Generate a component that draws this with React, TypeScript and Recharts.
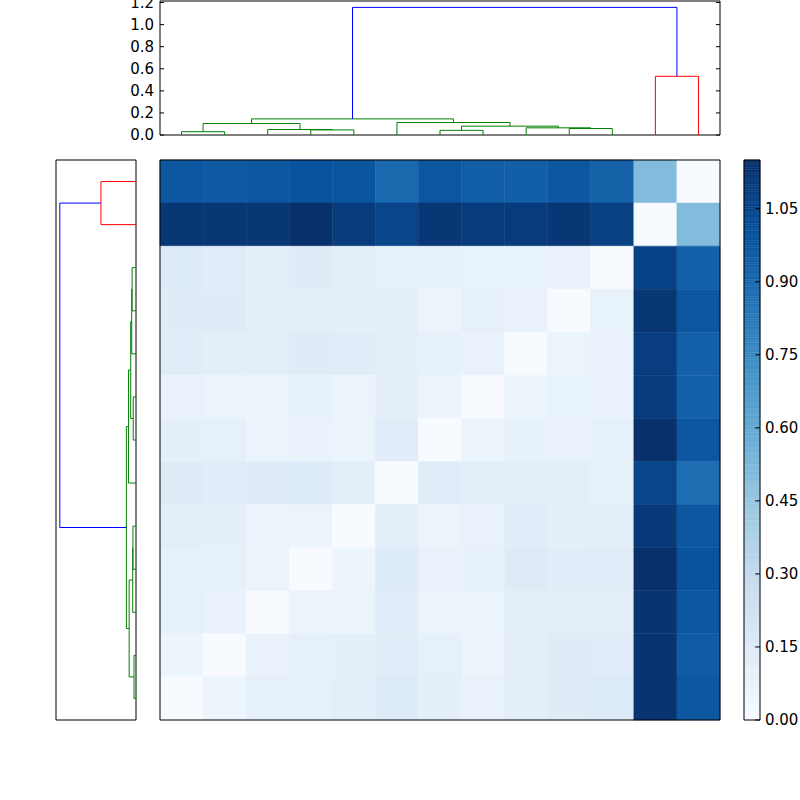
import React from 'react'
import { ReferenceArea, ReferenceLine, Scatter, ScatterChart, XAxis, YAxis } from 'recharts'

// linkage, leaves numbered 0..12 in dendrogram order, merge k makes node 13 + k
const mergeLeft = [0, 3, 2, 13, 6, 9, 8, 17, 5, 16, 11, 22]
const mergeRight = [1, 4, 14, 15, 7, 10, 18, 19, 20, 21, 12, 23]
const mergeHeight = [0.03, 0.046, 0.05, 0.104, 0.042, 0.059, 0.065, 0.08, 0.113, 0.146, 0.532, 1.156]
const mergeColor = ['g', 'g', 'g', 'g', 'g', 'g', 'g', 'g', 'g', 'g', 'r', 'b']

const dendroTicks = [0, 0.2, 0.4, 0.6, 0.8, 1.0, 1.2]
const colorbarTicks = [0, 0.15, 0.3, 0.45, 0.6, 0.75, 0.9, 1.05]

// heatmap rows, top to bottom
const row00 = [0.98, 0.97, 0.985, 1.0, 0.99, 0.9, 0.985, 0.95, 0.945, 0.98, 0.93, 0.51, 0.0]
const row01 = [1.12, 1.12, 1.12, 1.15, 1.1, 1.06, 1.12, 1.1, 1.1, 1.12, 1.08, 0.0, 0.51]
const row02 = [0.15, 0.13, 0.11, 0.14, 0.11, 0.09, 0.09, 0.085, 0.085, 0.08, 0.0, 1.07, 0.94]
const row03 = [0.14, 0.14, 0.12, 0.12, 0.11, 0.12, 0.07, 0.095, 0.08, 0.0, 0.085, 1.12, 0.985]
const row04 = [0.13, 0.12, 0.12, 0.14, 0.13, 0.11, 0.09, 0.08, 0.0, 0.07, 0.08, 1.09, 0.94]
const row05 = [0.08, 0.07, 0.07, 0.09, 0.065, 0.11, 0.055, 0.0, 0.065, 0.085, 0.08, 1.1, 0.94]
const row06 = [0.11, 0.095, 0.065, 0.075, 0.065, 0.13, 0.0, 0.065, 0.09, 0.08, 0.095, 1.15, 0.985]
const row07 = [0.145, 0.135, 0.14, 0.15, 0.12, 0.0, 0.13, 0.12, 0.12, 0.12, 0.1, 1.06, 0.88]
const row08 = [0.12, 0.11, 0.07, 0.07, 0.0, 0.12, 0.07, 0.08, 0.13, 0.11, 0.11, 1.11, 0.98]
const row09 = [0.095, 0.1, 0.07, 0.0, 0.055, 0.15, 0.08, 0.09, 0.145, 0.13, 0.135, 1.15, 1.0]
const row10 = [0.1, 0.08, 0.0, 0.07, 0.07, 0.135, 0.065, 0.065, 0.12, 0.12, 0.12, 1.13, 0.985]
const row11 = [0.055, 0.0, 0.08, 0.095, 0.11, 0.135, 0.1, 0.065, 0.11, 0.14, 0.135, 1.13, 0.96]
const row12 = [0.0, 0.055, 0.095, 0.095, 0.12, 0.15, 0.11, 0.08, 0.12, 0.14, 0.15, 1.13, 0.98]
const heatRows = [row00, row01, row02, row03, row04, row05, row06, row07, row08, row09, row10, row11, row12]

const VMAX = 1.15
const DMAX = 1.214
const LEAVES = 13
const FONT = { fill: '#000', fontSize: 15, fontFamily: 'DejaVu Sans' }
const LINK_COLORS: Record<string, string> = { g: '#008000', r: '#ff0000', b: '#0000ff' }

const BLUES = [
  [247, 251, 255], [222, 235, 247], [198, 219, 239], [158, 202, 225], [107, 174, 214],
  [66, 146, 198], [33, 113, 181], [8, 81, 156], [8, 48, 107]
]

const blues = (v: number) => {
  const t = Math.max(0, Math.min(1, v / VMAX)) * 8
  const i = Math.min(7, Math.floor(t))
  const f = t - i
  const c = BLUES[i].map((a, k) => Math.round(a + (BLUES[i + 1][k] - a) * f))
  return `rgb(${c[0]},${c[1]},${c[2]})`
}

type Seg = { color: string; a: [number, number]; b: [number, number] }

// each link is a U: left leg, crossbar, right leg; coords are [leafPos, height]
const buildSegments = () => {
  const pos: number[] = []
  const hgt: number[] = []
  for (let i = 0; i < LEAVES; i++) {
    pos[i] = 5 + 10 * i
    hgt[i] = 0
  }
  const segs: Seg[] = []
  mergeLeft.forEach((l, k) => {
    const r = mergeRight[k]
    const h = mergeHeight[k]
    const color = LINK_COLORS[mergeColor[k]]
    pos[LEAVES + k] = (pos[l] + pos[r]) / 2
    hgt[LEAVES + k] = h
    segs.push({ color, a: [pos[l], hgt[l]], b: [pos[l], h] })
    segs.push({ color, a: [pos[l], h], b: [pos[r], h] })
    segs.push({ color, a: [pos[r], h], b: [pos[r], hgt[r]] })
  })
  return segs
}

const segments = buildSegments()
const leafPoints = Array.from({ length: LEAVES }, (_, i) => ({ x: 5 + 10 * i, y: 0 }))
const noDot = () => <g />

const TopDendrogram = () => (
  <ScatterChart width={611} height={150} margin={{ top: 1, right: 1, bottom: 15, left: 0 }}>
    <XAxis type="number" dataKey="x" domain={[0, 130]} hide />
    <YAxis
      type="number"
      dataKey="y"
      domain={[0, DMAX]}
      ticks={dendroTicks}
      interval={0}
      width={50}
      axisLine={false}
      tickLine={false}
      tickSize={0}
      tickMargin={6}
      tick={FONT}
      tickFormatter={(v: number) => v.toFixed(1)}
    />
    <Scatter data={leafPoints} shape={noDot} isAnimationActive={false} />
    {dendroTicks.map((t) => (
      <ReferenceLine key={`l${t}`} segment={[{ x: 0, y: t }, { x: 0.95, y: t }]} stroke="#000" />
    ))}
    {dendroTicks.map((t) => (
      <ReferenceLine key={`r${t}`} segment={[{ x: 129.05, y: t }, { x: 130, y: t }]} stroke="#000" />
    ))}
    {segments.map((s, i) => (
      <ReferenceLine
        key={i}
        segment={[{ x: s.a[0], y: s.a[1] }, { x: s.b[0], y: s.b[1] }]}
        stroke={s.color}
        strokeWidth={1}
      />
    ))}
    <ReferenceArea x1={0} x2={130} y1={0} y2={DMAX} fill="none" stroke="#000" fillOpacity={0} />
  </ScatterChart>
)

const LeftDendrogram = () => (
  <ScatterChart width={82} height={562} margin={{ top: 1, right: 1, bottom: 1, left: 1 }}>
    <XAxis type="number" dataKey="x" domain={[0, DMAX]} reversed hide />
    <YAxis type="number" dataKey="y" domain={[0, 130]} hide />
    <Scatter data={leafPoints.map((p) => ({ x: 0, y: p.x }))} shape={noDot} isAnimationActive={false} />
    {segments.map((s, i) => (
      <ReferenceLine
        key={i}
        segment={[{ x: s.a[1], y: s.a[0] }, { x: s.b[1], y: s.b[0] }]}
        stroke={s.color}
        strokeWidth={1}
      />
    ))}
    <ReferenceArea x1={0} x2={DMAX} y1={0} y2={130} fill="none" stroke="#000" fillOpacity={0} />
  </ScatterChart>
)

const cellCenters = heatRows.flatMap((row, r) => row.map((v, c) => ({ x: c + 0.5, y: r + 0.5, v })))

const Heatmap = () => (
  <ScatterChart width={562} height={562} margin={{ top: 1, right: 1, bottom: 1, left: 1 }}>
    <XAxis type="number" dataKey="x" domain={[0, LEAVES]} hide />
    <YAxis type="number" dataKey="y" domain={[0, LEAVES]} reversed hide />
    <Scatter data={cellCenters} shape={noDot} isAnimationActive={false} />
    {heatRows.map((row, r) =>
      row.map((v, c) => (
        <ReferenceArea
          key={`${r}-${c}`}
          x1={c}
          x2={c + 1}
          y1={r}
          y2={r + 1}
          fill={blues(v)}
          fillOpacity={1}
          stroke={blues(v)}
          strokeWidth={0.5}
        />
      ))
    )}
    <ReferenceArea x1={0} x2={LEAVES} y1={0} y2={LEAVES} fill="none" stroke="#000" fillOpacity={0} />
  </ScatterChart>
)

const SLICES = 230

const Colorbar = () => (
  <ScatterChart width={73} height={575} margin={{ top: 1, right: 0, bottom: 14, left: 1 }}>
    <XAxis type="number" dataKey="x" domain={[0, 1]} hide />
    <YAxis
      type="number"
      dataKey="y"
      orientation="right"
      domain={[0, VMAX]}
      ticks={colorbarTicks}
      interval={0}
      width={56}
      axisLine={false}
      tickLine={false}
      tickSize={0}
      tickMargin={5}
      tick={FONT}
      tickFormatter={(v: number) => v.toFixed(2)}
    />
    <Scatter data={colorbarTicks.map((t) => ({ x: 0.5, y: t }))} shape={noDot} isAnimationActive={false} />
    {Array.from({ length: SLICES }, (_, i) => {
      const a = (i / SLICES) * VMAX
      const b = ((i + 1) / SLICES) * VMAX
      const col = blues((a + b) / 2)
      return (
        <ReferenceArea key={i} x1={0} x2={1} y1={a} y2={b} fill={col} fillOpacity={1} stroke={col} strokeWidth={0.5} />
      )
    })}
    {colorbarTicks.map((t) => (
      <ReferenceLine key={t} segment={[{ x: 0.7, y: t }, { x: 1, y: t }]} stroke="#000" />
    ))}
    <ReferenceArea x1={0} x2={1} y1={0} y2={VMAX} fill="none" stroke="#000" fillOpacity={0} />
  </ScatterChart>
)

export default function App() {
  return (
    <div style={{ position: 'absolute', left: 0, top: 0, width: 800, height: 800, background: '#fff' }}>
      <div style={{ position: 'absolute', left: 110, top: 0 }}>
        <TopDendrogram />
      </div>
      <div style={{ position: 'absolute', left: 55, top: 159 }}>
        <LeftDendrogram />
      </div>
      <div style={{ position: 'absolute', left: 159, top: 159 }}>
        <Heatmap />
      </div>
      <div style={{ position: 'absolute', left: 743, top: 159 }}>
        <Colorbar />
      </div>
    </div>
  )
}
